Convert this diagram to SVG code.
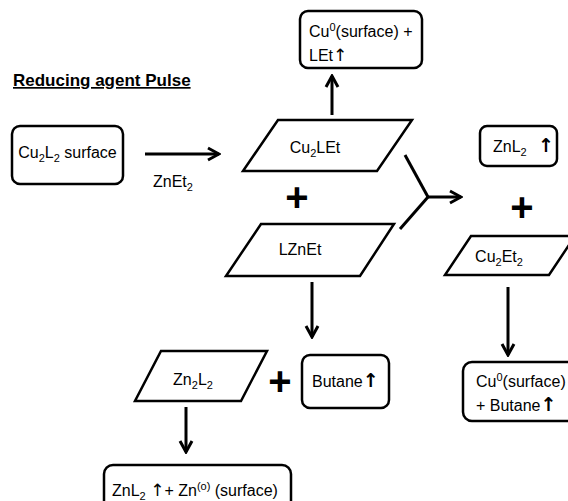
<svg xmlns="http://www.w3.org/2000/svg" width="568" height="501" viewBox="0 0 568 501">
<style>
.box{fill:#fff;stroke:#000;stroke-width:2.5}
.para{fill:#fff;stroke:#000;stroke-width:2.5;stroke-linejoin:miter}
.t{font-family:"Liberation Sans",Arial,sans-serif;font-size:16px;fill:#000}
.b{font-weight:bold}
.ar{font-family:"DejaVu Sans",sans-serif;font-size:17px}
.arb{font-family:"DejaVu Sans",sans-serif;font-size:19px;font-weight:bold}
.plus{font-family:"Liberation Sans",Arial,sans-serif;font-size:40px;font-weight:bold;text-anchor:middle;fill:#000}
.c{stroke:#000;stroke-width:3;fill:none}
.m{text-anchor:middle}
</style>
<defs>
<marker id="ah" viewBox="0 0 16 16" refX="14" refY="8" markerWidth="16" markerHeight="16" markerUnits="userSpaceOnUse" orient="auto">
<path d="M3,2 L14,8 L3,14" fill="none" stroke="#000" stroke-width="3"/>
</marker>
</defs>
<rect width="568" height="501" fill="#fff"/>
<text class="t b" x="13" y="86" style="font-size:17px" text-decoration="underline">Reducing agent Pulse</text>

<g id="connectors">
<line class="c" x1="145" y1="154" x2="219" y2="154" marker-end="url(#ah)"/>
<line class="c" x1="332" y1="115" x2="332" y2="76" marker-end="url(#ah)"/>
<line class="c" x1="405" y1="155" x2="428" y2="197"/>
<line class="c" x1="400" y1="229" x2="428" y2="197"/>
<line class="c" x1="428" y1="197" x2="461" y2="197" marker-end="url(#ah)"/>
<line class="c" x1="508" y1="287" x2="508" y2="355" marker-end="url(#ah)"/>
<line class="c" x1="312" y1="282" x2="312" y2="337" marker-end="url(#ah)"/>
<line class="c" x1="186" y1="407" x2="186" y2="452" marker-end="url(#ah)"/>
<text class="t" x="153" y="187">ZnEt<tspan font-size="11" dy="4">2</tspan></text>
</g>

<g id="cu2l2">
<rect class="box" x="12" y="126" width="111" height="58" rx="8"/>
<text class="t m" x="67.5" y="158">Cu<tspan font-size="11" dy="4">2</tspan><tspan dy="-4">L</tspan><tspan font-size="11" dy="4">2</tspan><tspan dy="-4"> surface</tspan></text>
</g>

<g id="cu2let">
<polygon class="para" points="278,120 412,120 377,171 243,171"/>
<text class="t m" x="315" y="153">Cu<tspan font-size="11" dy="4">2</tspan><tspan dy="-4">LEt</tspan></text>
</g>

<g id="plus1"><text class="plus" x="297" y="211">+</text></g>

<g id="lznet">
<polygon class="para" points="261,224 394,224 360,276 226,276"/>
<text class="t m" x="300" y="255">LZnEt</text>
</g>

<g id="cu0let">
<rect class="box" x="300" y="11" width="122" height="57" rx="8"/>
<text class="t" x="309" y="37">Cu<tspan font-size="11" dy="-6">0</tspan><tspan dy="6">(surface) +</tspan></text>
<text class="t" x="309" y="61">LEt<tspan class="ar">↑</tspan></text>
</g>

<g id="znl2">
<rect class="box" x="480" y="126" width="77" height="40" rx="7"/>
<text class="t" x="493" y="152">ZnL<tspan font-size="11" dy="4">2</tspan><tspan class="arb" dy="-4" x="538">↑</tspan></text>
</g>

<g id="plus2"><text class="plus" x="522" y="221">+</text></g>

<g id="cu2et2">
<polygon class="para" points="471,236 575,236 549,275 445,275"/>
<text class="t m" x="499" y="262">Cu<tspan font-size="11" dy="4">2</tspan><tspan dy="-4">Et</tspan><tspan font-size="11" dy="4">2</tspan></text>
</g>

<g id="cu0butane">
<rect class="box" x="463" y="362" width="120" height="59" rx="9"/>
<text class="t" x="476" y="387">Cu<tspan font-size="11" dy="-6">0</tspan><tspan dy="6">(surface)</tspan></text>
<text class="t" x="476" y="411">+ Butane<tspan class="arb">↑</tspan></text>
</g>

<g id="butane">
<rect class="box" x="302" y="355" width="87" height="53" rx="8"/>
<text class="t" x="312" y="387">Butane<tspan class="arb">↑</tspan></text>
</g>

<g id="plus3"><text class="plus" x="280" y="395">+</text></g>

<g id="zn2l2">
<polygon class="para" points="161,351 267,351 241,401 135,401"/>
<text class="t m" x="193" y="385">Zn<tspan font-size="11" dy="4">2</tspan><tspan dy="-4">L</tspan><tspan font-size="11" dy="4">2</tspan></text>
</g>

<g id="znl2zn">
<rect class="box" x="104" y="465" width="187" height="50" rx="9"/>
<text class="t" x="112" y="496">ZnL<tspan font-size="11" dy="4">2</tspan><tspan dy="-4"> </tspan><tspan class="ar">↑</tspan><tspan>+ Zn</tspan><tspan font-size="11" dy="-6">(o)</tspan><tspan dy="6"> (surface)</tspan></text>
</g>
</svg>
